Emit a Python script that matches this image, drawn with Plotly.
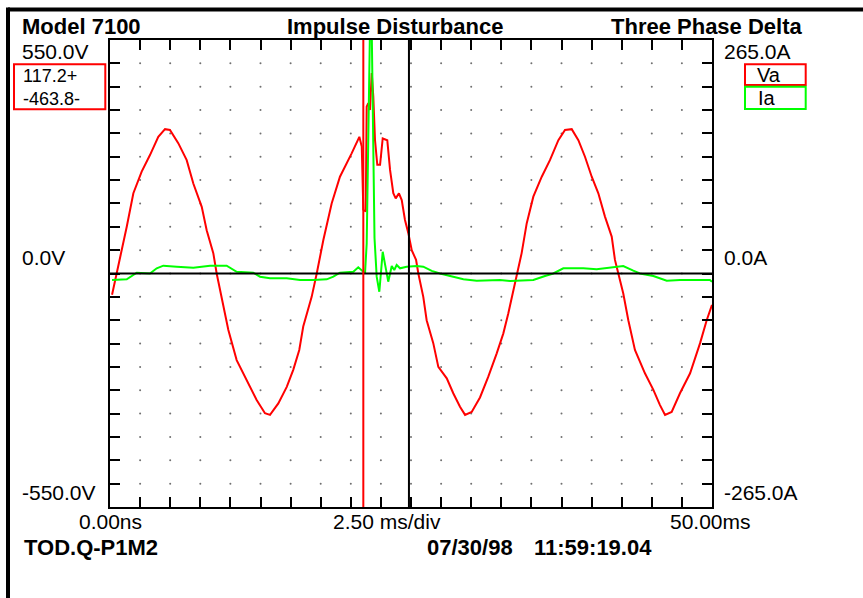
import numpy as np
import plotly.graph_objects as go

# ---------------- data ----------------
va_t = [0.17, 0.56, 0.97, 1.39, 1.94, 2.63, 3.32, 4.01, 4.57, 4.98, 5.67, 6.37, 6.92, 7.62, 8.03,
        8.58, 8.86, 9.28, 9.83, 10.52, 11.35, 12.18, 12.87, 13.29, 13.98, 14.68, 15.22, 15.72,
        16.05, 16.75, 17.17, 17.72, 18.41, 19.10, 20.07, 20.71, 20.91, 21.04, 21.24, 21.32,
        21.45, 21.59, 21.74, 21.87, 22.01, 22.20, 22.43, 22.65, 23.03, 23.26, 23.53, 23.73,
        24.00, 24.23, 24.50, 24.78, 25.06, 25.42, 25.61, 26.02, 26.30, 26.85, 27.27, 27.97,
        28.51, 29.07, 29.49, 30.04, 30.73, 31.42, 32.12, 32.67, 33.08, 33.50, 33.78, 34.19,
        34.61, 35.16, 35.86, 36.54, 37.24, 37.79, 38.35, 38.90, 39.45, 40.01, 40.56, 41.11,
        41.67, 41.94, 42.22, 42.63, 43.05, 43.60, 44.43, 45.13, 45.68, 46.10, 46.65, 47.34,
        48.18, 49.01, 49.56, 50.00]
va_v = [-50, 0, 55, 110, 189, 240, 279, 322, 340, 338, 307, 267, 212, 157, 102,
        48, 0, -55, -133, -204, -251, -298, -329, -333, -306, -267, -227, -180,
        -125, -55, 0, 79, 165, 228, 283, 322, 299, 150, 146, 393,
        401, 385, 472, 416, 314, 256, 256, 318, 314, 244, 189, 177,
        189, 173, 126, 95, 55, 32, 0, -55, -110, -164, -220, -247,
        -282, -314, -333, -326, -292, -243, -188, -141, -94, -39, -8, 48,
        118, 181, 228, 267, 314, 338, 340, 314, 275, 228, 189, 134,
        87, 32, 0, -47, -110, -180, -235, -274, -310, -333, -326, -282,
        -235, -164, -110, -74]

ia_t = [0.17, 1.39, 2.22, 3.32, 3.88, 4.43, 5.54, 6.92, 8.31, 9.69, 10.52, 11.90, 12.46, 13.29,
        14.68, 15.78, 16.89, 18.00, 18.55, 19.10, 20.21, 20.62, 21.04, 21.18, 21.32, 21.45,
        21.59, 21.74, 21.87, 21.97, 22.15, 22.37, 22.65, 22.84, 23.11, 23.40, 23.61, 23.81,
        24.09, 24.64, 25.47, 26.02, 26.72, 27.41, 28.51, 29.35, 30.46, 32.39, 33.22, 35.16,
        36.13, 36.82, 37.65, 39.31, 40.42, 41.80, 42.63, 43.46, 44.01, 45.13, 46.24, 47.34,
        49.83, 50.00]
ia_a = [-7.4, -6.6, 0.9, 0.0, 5.9, 8.9, 7.7, 6.6, 8.9, 8.9, 2.0, 0.9, -3.6, -5.5,
        -5.5, -7.4, -7.4, -6.6, -3.6, 0.9, 2.0, 7.0, 2.0, 0.0, 34, 160,
        275, 275, 150, 40, -3.6, -20.7, 24.7, 11.6, -9.3, 8.5, 4.0, 9.6,
        5.9, 7.7, 8.5, 7.7, 3.0, 0.0, -3.6, -6.6, -8.2, -7.4, -8.5, -7.4,
        -2.8, 0.0, 5.9, 5.9, 4.8, 7.0, 8.5, 3.2, 0.0, -2.8, -8.2, -7.4,
        -7.4, -9.3]

cursor_red_ms = 21.04
cursor_black_ms = 24.83

x_range = [0, 50]
v_range = [-550, 550]
i_range = [-265, 265]
x_div = 2.5
v_div = 55

# ---------------- geometry helpers (layout only) ----------------
W, H = 863, 598
L, R, T, B = 110, 712, 40, 507


def px(x):
    return (x - L) / (R - L)


def py(y):
    return (B - y) / (B - T)


FONT = "Arial, Liberation Sans, sans-serif"

fig = go.Figure()

# grid dots at every division intersection
gx = np.arange(x_range[0] + x_div, x_range[1] - 1e-9, x_div)
gy = np.arange(v_range[0] + v_div, v_range[1] - 1e-9, v_div)
GX, GY = np.meshgrid(gx, gy)
fig.add_trace(go.Scatter(x=GX.ravel(), y=GY.ravel(), mode="markers",
                         marker=dict(size=2, color="#707070"),
                         hoverinfo="skip", showlegend=False))

fig.add_trace(go.Scatter(x=va_t, y=va_v, mode="lines", name="Va",
                         line=dict(color="#FF0000", width=2), showlegend=False))
fig.add_trace(go.Scatter(x=ia_t, y=ia_a, mode="lines", name="Ia", yaxis="y2",
                         line=dict(color="#00FF00", width=2), showlegend=False))

tick_style = dict(showgrid=False, zeroline=False, ticks="inside", ticklen=10,
                  tickwidth=2, tickcolor="black", showticklabels=False, fixedrange=True)

fig.update_layout(
    width=W, height=H,
    margin=dict(l=L, r=W - R, t=T, b=H - B, pad=0),
    paper_bgcolor="white", plot_bgcolor="white",
    xaxis=dict(range=x_range, dtick=x_div, tick0=0, showline=True, linecolor="black",
               linewidth=2, mirror=True, **tick_style),
    yaxis=dict(range=v_range, dtick=v_div, tick0=0, showline=True, linecolor="black",
               linewidth=2, mirror=True, **tick_style),
    yaxis2=dict(range=i_range, overlaying="y", side="right", visible=False),
    # tick-only overlay axes for the top and right edges (ticks pointing inward)
    xaxis2=dict(range=x_range, dtick=x_div, tick0=0, overlaying="x", side="top",
                showline=False, anchor="y", **tick_style),
    yaxis3=dict(range=v_range, dtick=v_div, tick0=0, overlaying="y", side="right",
                showline=False, anchor="x", **tick_style),
    showlegend=False,
)
# invisible traces to activate the tick overlay axes
fig.add_trace(go.Scatter(x=[x_range[0]], y=[0], xaxis="x2", yaxis="y", mode="markers",
                         marker=dict(opacity=0), hoverinfo="skip", showlegend=False))
fig.add_trace(go.Scatter(x=[x_range[0]], y=[0], xaxis="x", yaxis="y3", mode="markers",
                         marker=dict(opacity=0), hoverinfo="skip", showlegend=False))

shapes = []
# zero line and cursors
shapes.append(dict(type="line", xref="x", yref="y", x0=x_range[0], x1=x_range[1], y0=0, y1=0,
                   line=dict(color="black", width=2), layer="above"))
shapes.append(dict(type="line", xref="x", yref="paper", x0=cursor_black_ms, x1=cursor_black_ms,
                   y0=0, y1=1, line=dict(color="black", width=2), layer="above"))
shapes.append(dict(type="line", xref="x", yref="paper", x0=cursor_red_ms, x1=cursor_red_ms,
                   y0=0, y1=1, line=dict(color="#FF0000", width=2), layer="above"))
# outer frame (top and left)
shapes.append(dict(type="line", xref="paper", yref="paper", x0=px(8), x1=px(W + 5),
                   y0=py(9.5), y1=py(9.5), line=dict(color="black", width=4)))
shapes.append(dict(type="line", xref="paper", yref="paper", x0=px(8), x1=px(8),
                   y0=py(7.5), y1=py(H + 5), line=dict(color="black", width=4)))
# boxes
shapes.append(dict(type="rect", xref="paper", yref="paper", x0=px(14), x1=px(105.3),
                   y0=py(64.3), y1=py(109.3), line=dict(color="#FF0000", width=2)))
shapes.append(dict(type="rect", xref="paper", yref="paper", x0=px(745), x1=px(805.7),
                   y0=py(64.3), y1=py(85), line=dict(color="#FF0000", width=2)))
shapes.append(dict(type="rect", xref="paper", yref="paper", x0=px(745), x1=px(805.7),
                   y0=py(86.7), y1=py(109), line=dict(color="#00FF00", width=2)))
fig.update_layout(shapes=shapes)

ann = []


def text(s, x, y, size=21, bold=False, anchor="left", align="left"):
    ann.append(dict(text=f"<b>{s}</b>" if bold else s, xref="paper", yref="paper",
                    x=px(x), y=py(y), xanchor=anchor, yanchor="middle", showarrow=False,
                    align=align,
                    font=dict(family=FONT, size=size, color="black")))


text("Model 7100", 20, 26, size=22, bold=True)
text("Impulse Disturbance", 394.5, 26, size=22, bold=True, anchor="center")
text("Three Phase Delta", 805, 26, size=22, bold=True, anchor="right")
text("550.0V", 20, 52)
text("265.0A", 722, 52)
text("117.2+<br>-463.8-", 21, 87, size=18)
text("Va", 755, 75, size=20)
text("Ia", 756, 98, size=20)
text("0.0V", 20, 257)
text("0.0A", 722, 257)
text("-550.0V", 20, 492.5)
text("-265.0A", 722, 492.5)
text("0.00ns", 77, 521.5)
text("2.50 ms/div", 331, 521.5)
text("50.00ms", 668, 521.5)
text("TOD.Q-P1M2", 22, 547, size=22, bold=True)
text("07/30/98", 425, 547, size=22, bold=True)
text("11:59:19.04", 531.5, 547, size=22, bold=True)
fig.update_layout(annotations=ann)

fig.write_html("out.html", config={"displayModeBar": False},
               post_script="document.body.style.margin='0px';document.body.style.padding='0px';")
